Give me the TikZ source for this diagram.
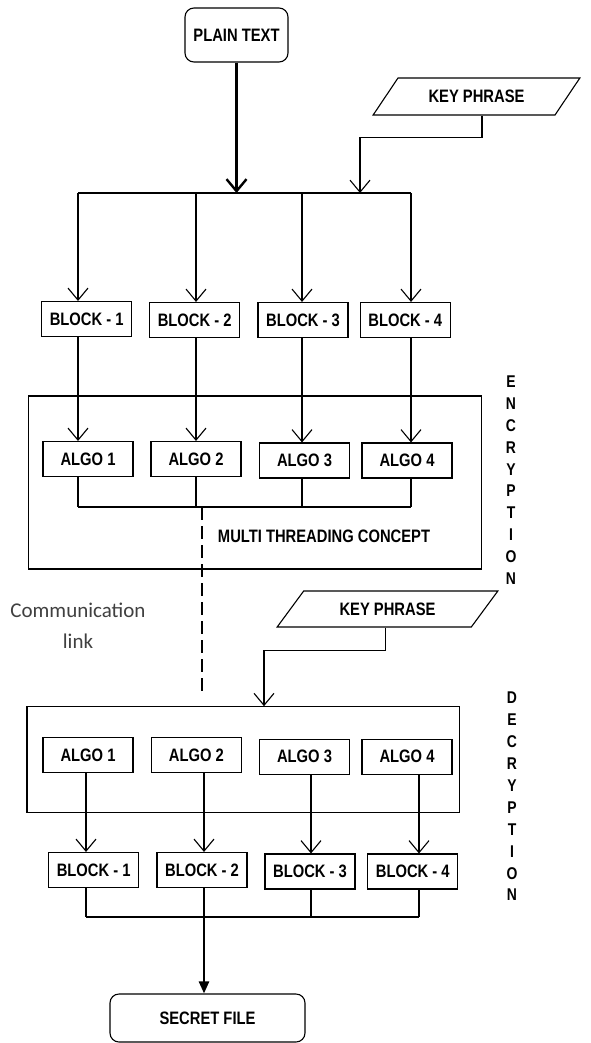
\documentclass[tikz,border=0pt]{standalone}
\usepackage{fontspec}
\newfontfamily\boxfont[FakeStretch=0.82]{Liberation Sans}
\newfontfamily\linkfont{Carlito}
\usetikzlibrary{arrows.meta,shapes.geometric}

\begin{document}
\begin{tikzpicture}[x=1pt,y=-1pt,line width=1.1pt,
    >={Straight Barb[length=12pt,width=20pt]},
    lbl/.style={font=\boxfont\bfseries\fontsize{18}{18}\selectfont},
    box/.style={lbl,draw,minimum width=90pt,minimum height=35pt,inner sep=0pt},
    endbox/.style={lbl,draw,rounded corners=9pt,inner sep=0pt},
    keybox/.style={lbl,draw,trapezium,trapezium left angle=40,trapezium right angle=140,
        trapezium stretches=true,inner sep=0pt},
    side/.style={font=\boxfont\bfseries\fontsize{17}{17}\selectfont,inner sep=0pt},
    thick line/.style={line width=2.4pt}]
\useasboundingbox[fill=white] (0,0) rectangle (591,1043);

% encryption side
\node[endbox,minimum width=103pt,minimum height=54pt] (plain) at (236.5,35) {PLAIN TEXT};
\node[keybox,minimum width=207pt,minimum height=37pt] (key1) at (476.5,96.5) {KEY PHRASE};
\coordinate (e1) at (78,193);
\coordinate (e2) at (196,193);
\coordinate (e3) at (302,193);
\coordinate (e4) at (411,193);
\coordinate (k1) at (360,193);
\coordinate (ebus) at (0,507);
\draw (e1)--(e4);
\draw[->,thick line] (plain)--(plain |- e1);
\draw[->] ([xshift=5.5pt]key1.south)--++(0,22) -| (k1);

\node[draw,minimum width=453.4pt,minimum height=173pt] (encbox) at (255.1,482.5) {};
\node[box] (eb1) at (86.7,319) {BLOCK - 1};
\node[box] (eb2) at (194.7,320) {BLOCK - 2};
\node[box] (eb3) at (303,320) {BLOCK - 3};
\node[box] (eb4) at (405.3,320) {BLOCK - 4};
\node[box] (ea1) at (88,459) {ALGO 1};
\node[box] (ea2) at (196,459) {ALGO 2};
\node[box] (ea3) at (304.5,460.5) {ALGO 3};
\node[box] (ea4) at (407,460.5) {ALGO 4};
\foreach \i in {1,...,4}{
  \draw[->] (e\i)--(e\i |- eb\i.north);
  \draw[->] (eb\i.south -| e\i)--(ea\i.north -| e\i);
  \draw (ea\i.south -| e\i)--(e\i |- ebus);
}
\draw (e1 |- ebus)--(e4 |- ebus);
\node[lbl] (mtc) at (324,536) {MULTI THREADING CONCEPT};
\foreach \l [count=\n from 0] in {E,N,C,R,Y,P,T,I,O,N}
  \node[side] (enc\n) at (511,{382+21.8*\n}) {\l};

% link
\coordinate (lk) at (202,696);
\draw[line width=2.5pt,dash pattern=on 13pt off 6pt] (ebus -| lk)--(lk);
\node[font=\linkfont\fontsize{21}{31}\selectfont,text=black!75,align=center] (comm) at (78,626) {Communication\\link};

% decryption side
\node[keybox,minimum width=221pt,minimum height=36pt] (key2) at (387.5,609) {KEY PHRASE};
\node[draw,minimum width=432.5pt,minimum height=106pt] (decbox) at (243.25,759.7) {};
\coordinate (dk) at (264,0);
\draw[->] ([xshift=-2pt]key2.south)--++(0,23) -| (decbox.north -| dk);
\coordinate (d1) at (86,0);
\coordinate (d2) at (204,0);
\coordinate (d3) at (311,0);
\coordinate (d4) at (419,0);
\coordinate (dbus) at (0,917);
\node[box] (da1) at (88,755) {ALGO 1};
\node[box] (da2) at (196.4,755) {ALGO 2};
\node[box] (da3) at (304.5,756.6) {ALGO 3};
\node[box] (da4) at (407,756.6) {ALGO 4};
\node[box] (db1) at (93.7,870) {BLOCK - 1};
\node[box] (db2) at (202,870) {BLOCK - 2};
\node[box] (db3) at (310,871.5) {BLOCK - 3};
\node[box] (db4) at (412.8,871.5) {BLOCK - 4};
\foreach \i in {1,...,4}{
  \draw[->] (da\i.south -| d\i)--(db\i.north -| d\i);
  \draw (db\i.south -| d\i)--(d\i |- dbus);
}
\draw[line width=2.2pt] (d1 |- dbus)--(d4 |- dbus);
\node[endbox,minimum width=195pt,minimum height=48pt] (secret) at (207.5,1018) {SECRET FILE};
\draw[thick line,-{Triangle[length=12pt,width=10pt]}] (d2 |- dbus)--(secret.north -| d2);
\foreach \l [count=\n from 0] in {D,E,C,R,Y,P,T,I,O,N}
  \node[side] (dec\n) at (512,{698+21.9*\n}) {\l};
\end{tikzpicture}
\end{document}
